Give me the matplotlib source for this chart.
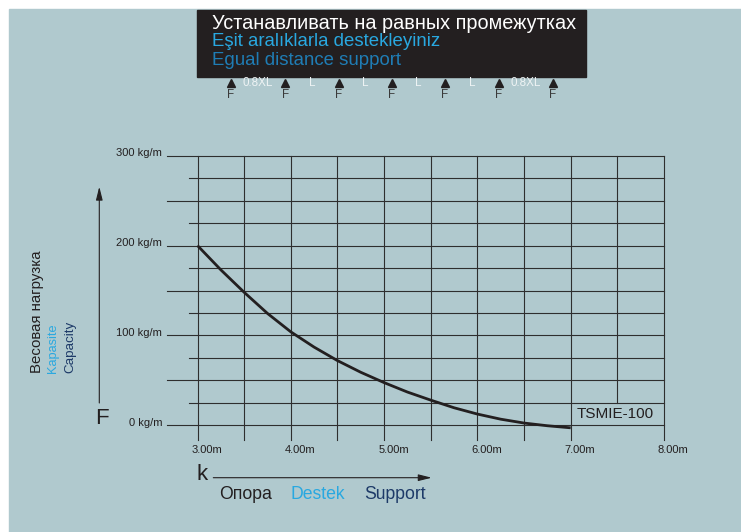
import numpy as np
import matplotlib
matplotlib.use("Agg")
import matplotlib.pyplot as plt
from matplotlib.patches import Rectangle

plt.rcParams['font.family'] = ['Liberation Sans', 'DejaVu Sans']

# load curve (support spacing in m, load in kg/m)
spacing = [3.0, 3.25, 3.5, 3.75, 4.0, 4.25, 4.5, 4.75, 5.0, 5.25, 5.5, 5.75, 6.0, 6.25, 6.5, 6.75, 7.0]
load = [200, 173, 148, 124.5, 104, 87, 72, 59, 47.5, 37, 28, 19.5, 12.5, 6.8, 2.5, -0.5, -2.8]

x_ticks = [3.0, 4.0, 5.0, 6.0, 7.0, 8.0]
y_ticks = [0, 100, 200, 300]
model_name = 'TSMIE-100'

title_lines = ['Устанавливать на равных промежутках',
               'Eşit aralıklarla destekleyiniz',
               'Egual distance support']
span_labels = ['0.8XL', 'L', 'L', 'L', 'L', '0.8XL']
y_label = ['Весовая нагрузка', 'Kapasite', 'Capacity']
x_label = ['Опора', 'Destek', 'Support']

DARK = '#231f20'
CYAN = '#29a8e0'
BLUE = '#1f7db5'
NAVY = '#1d3a68'
GRID = '#2e2e2e'
BG = '#b0c9ce'

W, H = 741, 532
fig = plt.figure(figsize=(W / 100, H / 100), dpi=100, facecolor='white')

# overlay in pixel coordinates for the decorations
deco = fig.add_axes([0, 0, 1, 1])
deco.set_xlim(0, W)
deco.set_ylim(H, 0)
deco.axis('off')
deco.set_zorder(0)
deco.add_patch(Rectangle((9, 9), W - 9, H - 9, color=BG, zorder=0))

# top black box with the mounting instruction
deco.add_patch(Rectangle((197.3, 10), 388.7, 66.7, color=DARK, zorder=1))
for txt, col, yb, fs in zip(title_lines, ['white', CYAN, BLUE], [28.7, 46.3, 65.3], [14.3, 13.4, 13.4]):
    deco.text(212.5, yb, txt, color=col, fontsize=fs, ha='left', va='baseline', zorder=2)

# support scheme
support_x = [231, 285.3, 339, 391.7, 445, 499, 552.7]
deco.plot(support_x, [82.7] * len(support_x), ls='none', marker='^', ms=5.2, color=DARK, zorder=2)
for sx in support_x:
    deco.text(sx, 94.5, 'F', fontsize=8.4, color='#3a3a3a', ha='center', va='center')
for i, lab in enumerate(span_labels):
    mid = (support_x[i] + support_x[i + 1]) / 2
    deco.text(mid, 82.5, lab, fontsize=8.4, color='#eef3f4', ha='center', va='center')

# axis arrows and labels
arrow = dict(arrowstyle='-|>,head_length=0.8,head_width=0.2', lw=0.8, color=DARK,
             mutation_scale=10, shrinkA=0, shrinkB=0)
deco.annotate('', xy=(99.3, 186.7), xytext=(99.3, 403), arrowprops=arrow)
deco.annotate('', xy=(431.7, 477.7), xytext=(213.3, 477.7), arrowprops=arrow)
deco.text(101.7, 418.7, 'F', fontsize=16, color=DARK, ha='center', va='center')
deco.text(201.7, 475, 'k', fontsize=16, color=DARK, ha='center', va='center')

for txt, col, xc, fs in zip(y_label, [DARK, CYAN, NAVY], [37, 53.5, 70], [10.8, 9.2, 9.6]):
    deco.text(xc, 373, txt, rotation=90, color=col, fontsize=fs, ha='center', va='bottom')
for txt, col, xl in zip(x_label, [DARK, CYAN, NAVY], [219.3, 290, 364]):
    deco.text(xl, 494.3, txt, color=col, fontsize=12.7, ha='left', va='center')

# chart area
left, right, top, bottom = 197.5, 664, 155.7, 425.3
ax = fig.add_axes([left / W, (H - bottom) / H, (right - left) / W, (bottom - top) / H])
ax.set_zorder(1)
ax.set_xlim(3, 8)
ax.set_ylim(0, 300)
ax.axis('off')

for v in np.arange(0, 301, 25):
    x0 = 2.67 if v % 50 == 0 else 2.91
    ax.plot([x0, 8], [v, v], color=GRID, lw=0.8, clip_on=False)
for xv in np.arange(3, 8.01, 0.5):
    if abs(xv - 7.5) < 1e-6:
        ax.plot([xv, xv], [25, 300], color=GRID, lw=0.8, clip_on=False)
    else:
        ax.plot([xv, xv], [-16.4, 300], color=GRID, lw=0.8, clip_on=False)

ax.plot(spacing, load, color=DARK, lw=2, clip_on=False, solid_capstyle='butt')

for xv in x_ticks:
    ax.text(xv + 0.1, -27.5, '%.2fm' % xv, fontsize=8, color=DARK, ha='center', va='center')
for v in y_ticks:
    ax.text(2.62, v + 3, '%d kg/m' % v, fontsize=8, color=DARK, ha='right', va='center')

ax.text(7.478, 12.2, model_name, fontsize=11, color=DARK, ha='center', va='center')

fig.savefig('out.png', dpi=100, facecolor='white')
